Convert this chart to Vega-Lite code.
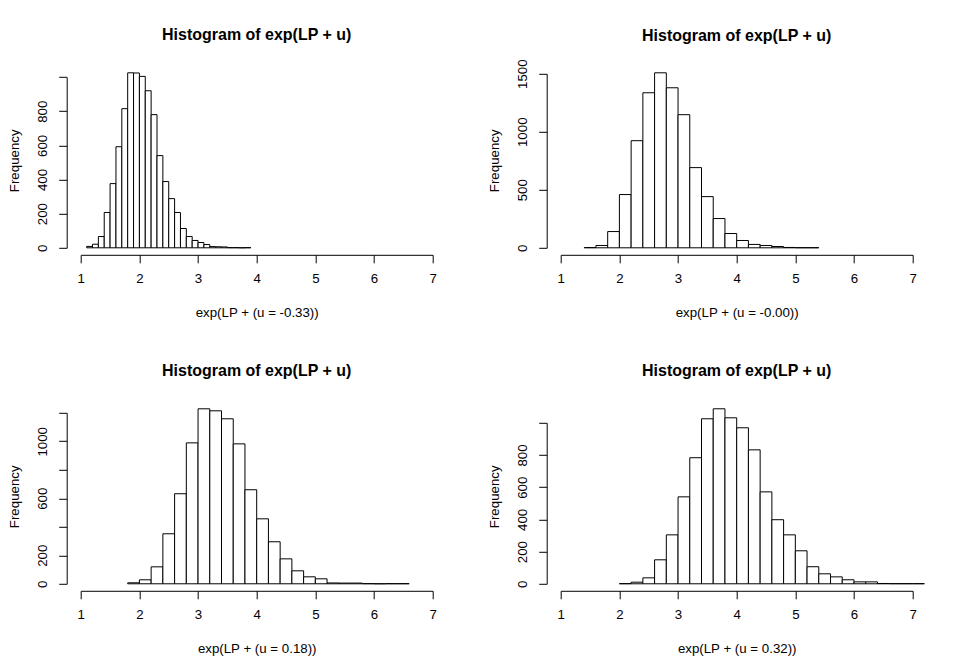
{
  "$schema": "https://vega.github.io/schema/vega-lite/v6.json",
  "padding": {"left": 6.7, "top": 26.8, "right": 5, "bottom": 5},
  "columns": 2,
  "spacing": {"row": 147, "column": 100},
  "bounds": "flush",
  "datasets": {
    "h1": [
      {"lo": 1.1, "hi": 1.2, "count": 8},
      {"lo": 1.2, "hi": 1.3, "count": 21},
      {"lo": 1.3, "hi": 1.4, "count": 66},
      {"lo": 1.4, "hi": 1.5, "count": 207},
      {"lo": 1.5, "hi": 1.6, "count": 376},
      {"lo": 1.6, "hi": 1.7, "count": 592},
      {"lo": 1.7, "hi": 1.8, "count": 815},
      {"lo": 1.8, "hi": 1.9, "count": 1025},
      {"lo": 1.9, "hi": 2.0, "count": 1024},
      {"lo": 2.0, "hi": 2.1, "count": 1004},
      {"lo": 2.1, "hi": 2.2, "count": 920},
      {"lo": 2.2, "hi": 2.3, "count": 780},
      {"lo": 2.3, "hi": 2.4, "count": 540},
      {"lo": 2.4, "hi": 2.5, "count": 388},
      {"lo": 2.5, "hi": 2.6, "count": 288},
      {"lo": 2.6, "hi": 2.7, "count": 207},
      {"lo": 2.7, "hi": 2.8, "count": 113},
      {"lo": 2.8, "hi": 2.9, "count": 66},
      {"lo": 2.9, "hi": 3.0, "count": 43},
      {"lo": 3.0, "hi": 3.1, "count": 31},
      {"lo": 3.1, "hi": 3.2, "count": 19},
      {"lo": 3.2, "hi": 3.3, "count": 7},
      {"lo": 3.3, "hi": 3.4, "count": 6},
      {"lo": 3.4, "hi": 3.5, "count": 5},
      {"lo": 3.5, "hi": 3.6, "count": 1},
      {"lo": 3.6, "hi": 3.7, "count": 1},
      {"lo": 3.7, "hi": 3.8, "count": 0},
      {"lo": 3.8, "hi": 3.9, "count": 1}
    ],
    "h2": [
      {"lo": 1.4, "hi": 1.6, "count": 2},
      {"lo": 1.6, "hi": 1.8, "count": 20},
      {"lo": 1.8, "hi": 2.0, "count": 140},
      {"lo": 2.0, "hi": 2.2, "count": 459},
      {"lo": 2.2, "hi": 2.4, "count": 923},
      {"lo": 2.4, "hi": 2.6, "count": 1336},
      {"lo": 2.6, "hi": 2.8, "count": 1508},
      {"lo": 2.8, "hi": 3.0, "count": 1379},
      {"lo": 3.0, "hi": 3.2, "count": 1147},
      {"lo": 3.2, "hi": 3.4, "count": 691},
      {"lo": 3.4, "hi": 3.6, "count": 441},
      {"lo": 3.6, "hi": 3.8, "count": 252},
      {"lo": 3.8, "hi": 4.0, "count": 123},
      {"lo": 4.0, "hi": 4.2, "count": 63},
      {"lo": 4.2, "hi": 4.4, "count": 29},
      {"lo": 4.4, "hi": 4.6, "count": 20},
      {"lo": 4.6, "hi": 4.8, "count": 11},
      {"lo": 4.8, "hi": 5.0, "count": 3},
      {"lo": 5.0, "hi": 5.2, "count": 1},
      {"lo": 5.2, "hi": 5.4, "count": 1}
    ],
    "h3": [
      {"lo": 1.8, "hi": 2.0, "count": 7},
      {"lo": 2.0, "hi": 2.2, "count": 28},
      {"lo": 2.2, "hi": 2.4, "count": 119},
      {"lo": 2.4, "hi": 2.6, "count": 351},
      {"lo": 2.6, "hi": 2.8, "count": 632},
      {"lo": 2.8, "hi": 3.0, "count": 989},
      {"lo": 3.0, "hi": 3.2, "count": 1228},
      {"lo": 3.2, "hi": 3.4, "count": 1214},
      {"lo": 3.4, "hi": 3.6, "count": 1158},
      {"lo": 3.6, "hi": 3.8, "count": 982},
      {"lo": 3.8, "hi": 4.0, "count": 660},
      {"lo": 4.0, "hi": 4.2, "count": 456},
      {"lo": 4.2, "hi": 4.4, "count": 295},
      {"lo": 4.4, "hi": 4.6, "count": 175},
      {"lo": 4.6, "hi": 4.8, "count": 91},
      {"lo": 4.8, "hi": 5.0, "count": 49},
      {"lo": 5.0, "hi": 5.2, "count": 35},
      {"lo": 5.2, "hi": 5.4, "count": 6},
      {"lo": 5.4, "hi": 5.6, "count": 5},
      {"lo": 5.6, "hi": 5.8, "count": 5},
      {"lo": 5.8, "hi": 6.0, "count": 1},
      {"lo": 6.0, "hi": 6.2, "count": 0},
      {"lo": 6.2, "hi": 6.4, "count": 1},
      {"lo": 6.4, "hi": 6.6, "count": 1}
    ],
    "h4": [
      {"lo": 2.0, "hi": 2.2, "count": 1},
      {"lo": 2.2, "hi": 2.4, "count": 10},
      {"lo": 2.4, "hi": 2.6, "count": 37},
      {"lo": 2.6, "hi": 2.8, "count": 149},
      {"lo": 2.8, "hi": 3.0, "count": 304},
      {"lo": 3.0, "hi": 3.2, "count": 540},
      {"lo": 3.2, "hi": 3.4, "count": 783},
      {"lo": 3.4, "hi": 3.6, "count": 1025},
      {"lo": 3.6, "hi": 3.8, "count": 1087},
      {"lo": 3.8, "hi": 4.0, "count": 1031},
      {"lo": 4.0, "hi": 4.2, "count": 969},
      {"lo": 4.2, "hi": 4.4, "count": 832},
      {"lo": 4.4, "hi": 4.6, "count": 571},
      {"lo": 4.6, "hi": 4.8, "count": 398},
      {"lo": 4.8, "hi": 5.0, "count": 304},
      {"lo": 5.0, "hi": 5.2, "count": 205},
      {"lo": 5.2, "hi": 5.4, "count": 106},
      {"lo": 5.4, "hi": 5.6, "count": 62},
      {"lo": 5.6, "hi": 5.8, "count": 43},
      {"lo": 5.8, "hi": 6.0, "count": 25},
      {"lo": 6.0, "hi": 6.2, "count": 12},
      {"lo": 6.2, "hi": 6.4, "count": 12},
      {"lo": 6.4, "hi": 6.6, "count": 2},
      {"lo": 6.6, "hi": 6.8, "count": 1},
      {"lo": 6.8, "hi": 7.0, "count": 1},
      {"lo": 7.0, "hi": 7.2, "count": 1}
    ]
  },
  "concat": [
    {
      "width": 380, "height": 189,
      "title": {"text": "Histogram of exp(LP + u)"},
      "data": {"name": "h1"},
      "mark": {"type": "rect", "fill": "white", "stroke": "black", "strokeWidth": 1},
      "encoding": {
        "x": {"field": "lo", "type": "quantitative",
              "scale": {"domain": [1, 7], "range": [14.07, 365.93], "nice": false, "zero": false},
              "axis": {"values": [1, 2, 3, 4, 5, 6, 7], "title": "exp(LP + (u = -0.33))"}},
        "x2": {"field": "hi"},
        "y": {"field": "count", "type": "quantitative",
              "scale": {"domain": [0, 1000], "range": [182, 11.27], "nice": false},
              "axis": {"values": [0, 200, 400, 600, 800, 1000], "format": "d", "labelExpr": "datum.value >= 1000 ? '' : datum.label", "title": "Frequency"}},
        "y2": {"datum": 0}
      }
    },
    {
      "width": 380, "height": 189,
      "title": {"text": "Histogram of exp(LP + u)", "dy": 8.15},
      "data": {"name": "h2"},
      "mark": {"type": "rect", "fill": "white", "stroke": "black", "strokeWidth": 1},
      "encoding": {
        "x": {"field": "lo", "type": "quantitative",
              "scale": {"domain": [1, 7], "range": [14.07, 365.93], "nice": false, "zero": false},
              "axis": {"values": [1, 2, 3, 4, 5, 6, 7], "title": "exp(LP + (u = -0.00))"}},
        "x2": {"field": "hi"},
        "y": {"field": "count", "type": "quantitative",
              "scale": {"domain": [0, 1500], "range": [182, 7.93], "nice": false},
              "axis": {"values": [0, 500, 1000, 1500], "format": "d", "title": "Frequency"}},
        "y2": {"datum": 0}
      }
    },
    {
      "width": 380, "height": 189,
      "title": {"text": "Histogram of exp(LP + u)"},
      "data": {"name": "h3"},
      "mark": {"type": "rect", "fill": "white", "stroke": "black", "strokeWidth": 1},
      "encoding": {
        "x": {"field": "lo", "type": "quantitative",
              "scale": {"domain": [1, 7], "range": [14.07, 365.93], "nice": false, "zero": false},
              "axis": {"values": [1, 2, 3, 4, 5, 6, 7], "title": "exp(LP + (u = 0.18))"}},
        "x2": {"field": "hi"},
        "y": {"field": "count", "type": "quantitative",
              "scale": {"domain": [0, 1200], "range": [182, 11.0], "nice": false},
              "axis": {"values": [0, 200, 400, 600, 800, 1000, 1200], "format": "d", "labelExpr": "indexof([0, 200, 600, 1000], datum.value) >= 0 ? datum.label : ''", "title": "Frequency"}},
        "y2": {"datum": 0}
      }
    },
    {
      "width": 380, "height": 189,
      "title": {"text": "Histogram of exp(LP + u)"},
      "data": {"name": "h4"},
      "mark": {"type": "rect", "fill": "white", "stroke": "black", "strokeWidth": 1},
      "encoding": {
        "x": {"field": "lo", "type": "quantitative",
              "scale": {"domain": [1, 7], "range": [14.07, 365.93], "nice": false, "zero": false},
              "axis": {"values": [1, 2, 3, 4, 5, 6, 7], "title": "exp(LP + (u = 0.32))"}},
        "x2": {"field": "hi"},
        "y": {"field": "count", "type": "quantitative",
              "scale": {"domain": [0, 1000], "range": [182, 21.0], "nice": false},
              "axis": {"values": [0, 200, 400, 600, 800, 1000], "format": "d", "labelExpr": "datum.value >= 1000 ? '' : datum.label", "title": "Frequency"}},
        "y2": {"datum": 0}
      }
    }
  ],
  "config": {
    "font": "Liberation Sans",
    "background": "white",
    "view": {"stroke": null},
    "title": {"fontSize": 16, "fontWeight": "bold", "color": "black", "anchor": "middle", "frame": "group", "baseline": "alphabetic", "offset": 22.6},
    "axis": {
      "grid": false,
      "domainColor": "black", "domainWidth": 1,
      "tickColor": "black", "tickWidth": 1, "tickSize": 8,
      "labelColor": "black", "labelFontSize": 13.3, "labelFlush": false, "labelOverlap": false, "labelBound": false,
      "titleColor": "black", "titleFontSize": 13.3, "titleFontWeight": "normal"
    },
    "axisX": {
      "labelAngle": 0, "labelBaseline": "alphabetic", "labelPadding": 19.4,
      "titleX": 190, "titleY": 61.4, "titleBaseline": "alphabetic", "titleAlign": "center"
    },
    "axisY": {
      "labelAngle": -90, "labelAlign": "center", "labelBaseline": "alphabetic", "labelPadding": 12,
      "titleAngle": -90, "titleX": -48.3, "titleY": 94.5, "titleBaseline": "alphabetic", "titleAlign": "center"
    }
  }
}
